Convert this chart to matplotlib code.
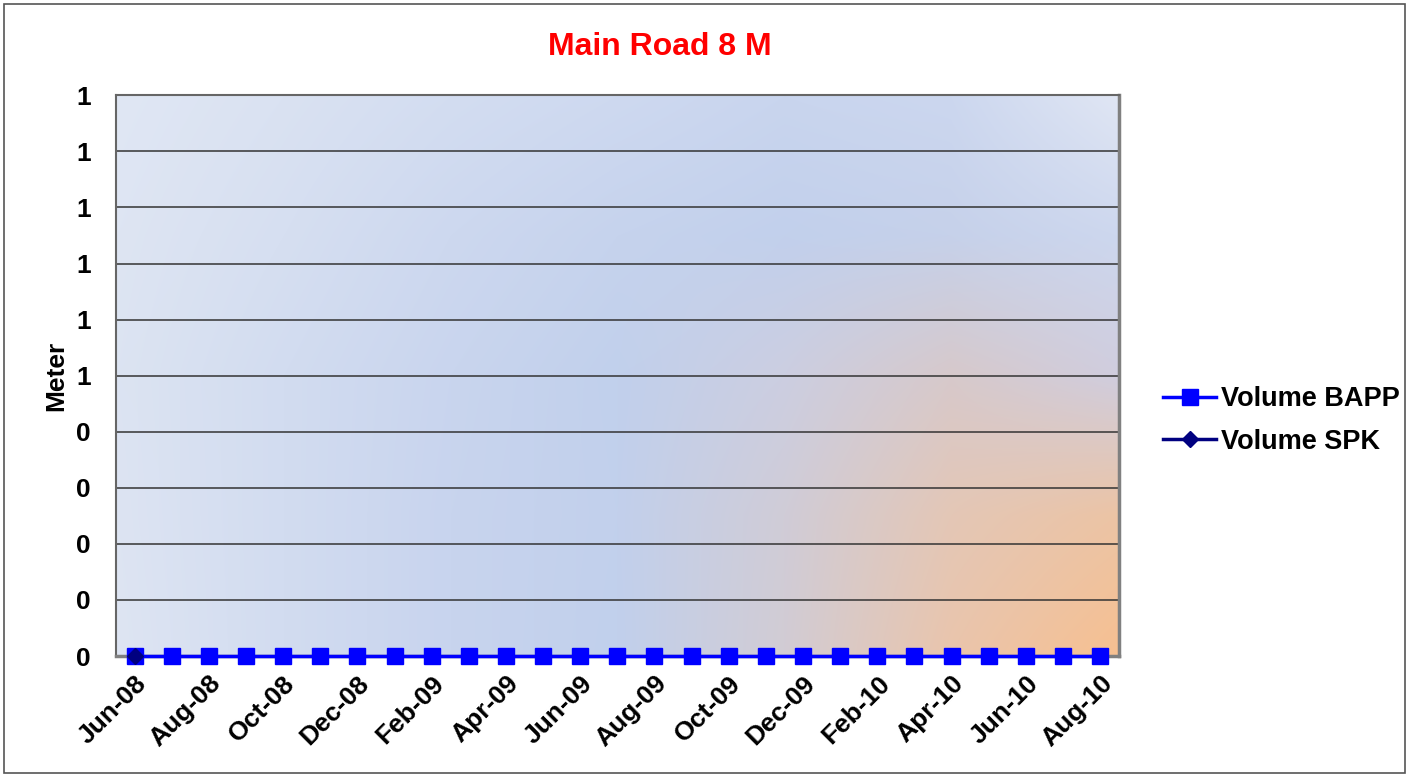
import numpy as np
import matplotlib
matplotlib.use("Agg")
import matplotlib.pyplot as plt
from matplotlib.ticker import FuncFormatter
from matplotlib.patches import Rectangle

plt.rcParams['font.family'] = ['Liberation Sans', 'DejaVu Sans']

months = ["Jun-08", "Jul-08", "Aug-08", "Sep-08", "Oct-08", "Nov-08", "Dec-08",
          "Jan-09", "Feb-09", "Mar-09", "Apr-09", "May-09", "Jun-09", "Jul-09",
          "Aug-09", "Sep-09", "Oct-09", "Nov-09", "Dec-09", "Jan-10", "Feb-10",
          "Mar-10", "Apr-10", "May-10", "Jun-10", "Jul-10", "Aug-10"]
volume_bapp = [0, 0, 0, 0, 0, 0, 0, 0, 0, 0, 0, 0, 0, 0, 0, 0, 0, 0, 0, 0, 0, 0, 0, 0, 0, 0, 0]
volume_spk = [0] + [np.nan] * 26
y_ticks = [0.0, 0.1, 0.2, 0.3, 0.4, 0.5, 0.6, 0.7, 0.8, 0.9, 1.0]

fig = plt.figure(figsize=(14.09, 7.75), dpi=100)
fig.patches.append(Rectangle((0.003, 0.003), 0.994, 0.992, transform=fig.transFigure,
                             fill=False, edgecolor='#555555', linewidth=1.2))

ax = fig.add_axes([0.0823, 0.1535, 0.7117, 0.7235])

# background gradient: coarse colour grid (top row first), smoothly interpolated
bg_grid = np.array([
    [(224, 231, 244), (218, 226, 242), (211, 221, 241), (206, 217, 240), (201, 213, 238), (204, 215, 239), (224, 230, 244)],
    [(222, 229, 243), (214, 223, 241), (205, 216, 239), (198, 211, 237), (194, 208, 236), (198, 209, 234), (205, 215, 238)],
    [(220, 228, 242), (210, 220, 240), (201, 213, 238), (193, 208, 236), (204, 206, 225), (215, 201, 203), (208, 205, 222)],
    [(221, 228, 243), (210, 220, 240), (200, 212, 238), (194, 208, 236), (208, 204, 215), (228, 199, 182), (236, 196, 165)],
    [(222, 229, 243), (210, 220, 240), (200, 212, 238), (193, 208, 236), (210, 204, 212), (234, 197, 172), (247, 192, 145)],
], dtype=float) / 255.0
gy = np.linspace(0, 1, bg_grid.shape[0])
gx = np.linspace(0, 1, bg_grid.shape[1])
H, W = 280, 500
ty = np.linspace(0, 1, H)
tx = np.linspace(0, 1, W)
tmp = np.stack([np.array([np.interp(tx, gx, bg_grid[r, :, c]) for c in range(3)]).T
                for r in range(bg_grid.shape[0])])  # rows x W x 3
img = np.stack([np.array([np.interp(ty, gy, tmp[:, j, c]) for c in range(3)]).T
                for j in range(W)], axis=1)  # H x W x 3
ax.imshow(img, extent=[0, 1, 0, 1], transform=ax.transAxes, aspect='auto', zorder=0,
          interpolation='bilinear')

x = np.arange(len(months))
ax.plot(x, volume_bapp, color='#0000FF', linewidth=2.5, marker='s', markersize=11,
        label='Volume BAPP', zorder=3, clip_on=False)
ax.plot(x, volume_spk, color='#000080', linewidth=2.5, marker='D', markersize=8,
        label='Volume SPK', zorder=4, clip_on=False)

ax.set_xlim(-0.5, len(months) - 0.5)
ax.set_ylim(0, 1.0)
ax.set_yticks(y_ticks)
ax.yaxis.set_major_formatter(FuncFormatter(lambda v, p: str(int(np.floor(v + 0.5 + 1e-9)))))
ax.grid(axis='y', color='#333333', linewidth=1.1, zorder=1)
for gl in ax.get_ygridlines():
    gl.set_zorder(1)

ax.set_xticks(x[::2])
ax.set_xticklabels(months[::2], rotation=45, ha='right', rotation_mode='anchor')
ax.tick_params(axis='both', length=0, labelsize=19)
ax.tick_params(axis='x', pad=11)
ax.tick_params(axis='y', pad=18)
for lab in ax.get_xticklabels() + ax.get_yticklabels():
    lab.set_fontweight('bold')

for s in ['left', 'top']:
    ax.spines[s].set_color('#666666')
    ax.spines[s].set_linewidth(1.5)
for s in ['right', 'bottom']:
    ax.spines[s].set_color('#808080')
    ax.spines[s].set_linewidth(2.5)

ax.set_ylabel('Meter', fontsize=19, fontweight='bold', labelpad=6)
fig.text(0.468, 0.939, 'Main Road 8 M', color='#FF0000', fontsize=23, fontweight='bold',
         ha='center', va='center')

leg = ax.legend(loc='center left', bbox_to_anchor=(1.02, 0.42), frameon=False,
                handlelength=1.95, labelspacing=0.6, handletextpad=0.2,
                prop={'weight': 'bold', 'size': 19.5})

fig.savefig('out.png', dpi=100)
